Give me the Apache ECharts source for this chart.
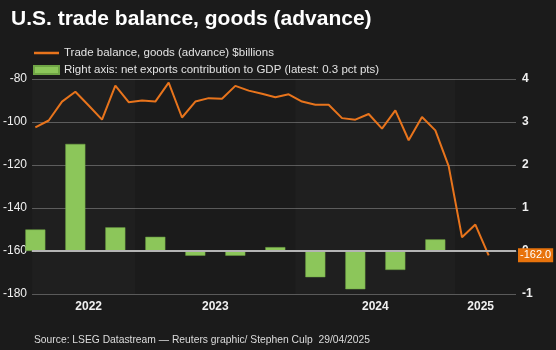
<!DOCTYPE html>
<html>
<head>
<meta charset="utf-8">
<script src="https://cdn.jsdelivr.net/npm/echarts@6/dist/echarts.min.js"></script>
<style>
html,body{margin:0;padding:0;background:#1b1b1b;}
#c{width:556px;height:350px;}
</style>
</head>
<body>
<div id="c"></div>
<script>
// Monthly categories (May 2022 .. Mar 2025)
const months = [
  '2022-05','2022-06','2022-07','2022-08','2022-09','2022-10','2022-11','2022-12',
  '2023-01','2023-02','2023-03','2023-04','2023-05','2023-06','2023-07','2023-08','2023-09','2023-10','2023-11','2023-12',
  '2024-01','2024-02','2024-03','2024-04','2024-05','2024-06','2024-07','2024-08','2024-09','2024-10','2024-11','2024-12',
  '2025-01','2025-02','2025-03'
];
// Trade balance, goods (advance), $billions
const tradeBalance = [
  -102.5, -99.3, -90.5, -85.9, -92.3, -98.9, -83.1, -90.8,
  -90.0, -90.5, -81.7, -97.9, -90.5, -88.9, -89.2, -83.2, -85.4, -86.9, -88.5, -87.1,
  -90.5, -92.0, -92.0, -98.2, -98.9, -96.3, -103.1, -94.6, -108.5, -97.7, -103.9, -120.5,
  -153.6, -147.7, -162.0
];
// Quarterly net exports contribution to GDP (pct pts), plotted at mid-quarter month
const quarterMonths = ['2022-05','2022-08','2022-11','2023-02','2023-05','2023-08','2023-11','2024-02','2024-05','2024-08','2024-11'];
const netExports = [0.50, 2.49, 0.55, 0.33, -0.11, -0.11, 0.09, -0.61, -0.89, -0.44, 0.27];
// Year tick labels
const yearLabels = ['2022','2023','2024','2025'];
const leftTicks = [-180, -160, -140, -120, -100, -80];
const rightTicks = [-1, 0, 1, 2, 3, 4];

const lineData = tradeBalance.map((v, i) => [i, v]);
const barData = netExports.map((v, i) => [months.indexOf(quarterMonths[i]), v]);

// year label anchor positions on the month-index axis
const yearLabelPos = [4.0, 13.5, 25.5, 33.4];
// year shading bands (2022 and 2024)
const firstJan = y => months.indexOf(y + '-01');
const bands = [
  [{xAxis: -0.3}, {xAxis: firstJan('2023') - 0.5}],
  [{xAxis: firstJan('2024') - 0.5}, {xAxis: firstJan('2025') - 0.5}]
];

const chart = echarts.init(document.getElementById('c'), null, {renderer: 'canvas'});
const FONT = '"Liberation Sans", Arial, sans-serif';
chart.setOption({
  backgroundColor: '#1b1b1b',
  animation: false,
  textStyle: {fontFamily: FONT},
  title: {
    text: 'U.S. trade balance, goods (advance)',
    left: 6, top: 4,
    textStyle: {color: '#ffffff', fontSize: 21, fontWeight: 'bold', fontFamily: FONT}
  },
  legend: {
    orient: 'vertical',
    left: 33, top: 47, padding: 0,
    itemWidth: 25, itemHeight: 8, itemGap: 5,
    textStyle: {color: '#e2e2e2', fontSize: 11.5, fontFamily: FONT},
    data: [
      {name: 'Trade balance, goods (advance) $billions', icon: 'path://M0,0H25V2.5H0Z'},
      {name: 'Right axis: net exports contribution to GDP (latest: 0.3 pct pts)', icon: 'rect'}
    ]
  },
  grid: {left: 32, right: 40, top: 79, bottom: 56, containLabel: false},
  xAxis: {
    type: 'value',
    min: -0.25, max: 36.05,
    splitLine: {show: false},
    axisTick: {show: false},
    axisLine: {show: true, lineStyle: {color: '#6a6a6a', width: 1}},
    axisLabel: {
      customValues: yearLabelPos,
      color: '#f0f0f0', fontSize: 12, fontWeight: 'bold', margin: 7,
      formatter: function (v) {
        for (let i = 0; i < yearLabelPos.length; i++) {
          if (Math.abs(yearLabelPos[i] - v) < 0.01) return yearLabels[i];
        }
        return '';
      }
    }
  },
  yAxis: [
    {
      type: 'value', position: 'left',
      min: leftTicks[0], max: leftTicks[leftTicks.length - 1], interval: 20,
      axisLine: {show: false}, axisTick: {show: false},
      splitLine: {lineStyle: {color: '#5a5a5a', width: 1}},
      axisLabel: {color: '#f0f0f0', fontSize: 12, margin: 5}
    },
    {
      type: 'value', position: 'right',
      min: rightTicks[0], max: rightTicks[rightTicks.length - 1], interval: 1,
      axisLine: {show: false}, axisTick: {show: false},
      splitLine: {show: false},
      axisLabel: {color: '#f0f0f0', fontSize: 12, fontWeight: 'bold', margin: 6}
    }
  ],
  series: [
    {
      name: 'Right axis: net exports contribution to GDP (latest: 0.3 pct pts)',
      type: 'bar',
      yAxisIndex: 1,
      data: barData,
      barWidth: 20,
      clip: true,
      itemStyle: {color: '#8cc65a', borderColor: '#6fa545', borderWidth: 0.5},
      markArea: {
        silent: true,
        itemStyle: {color: 'rgba(255,255,255,0.02)'},
        data: bands
      },
      markLine: {
        silent: true, symbol: 'none',
        lineStyle: {color: '#b4b4b4', width: 2, type: 'solid'},
        label: {show: false},
        data: [{yAxis: 0}]
      },
      z: 2
    },
    {
      name: 'Trade balance, goods (advance) $billions',
      type: 'line',
      yAxisIndex: 0,
      data: lineData,
      showSymbol: false,
      symbol: 'none',
      lineStyle: {color: '#e8741c', width: 2},
      itemStyle: {color: '#e8741c'},
      markLine: {
        silent: true, symbol: 'none',
        lineStyle: {color: 'rgba(0,0,0,0)', width: 0},
        label: {
          show: true, position: 'end', distance: 2,
          formatter: p => p.value.toFixed(1),
          backgroundColor: '#e8730c', color: '#ffffff', fontSize: 11,
          padding: [2, 2, 1, 2]
        },
        data: [{yAxis: tradeBalance[tradeBalance.length - 1]}]
      },
      z: 3
    }
  ],
  graphic: [
    {
      type: 'text', left: 34, top: 335,
      style: {
        text: 'Source: LSEG Datastream \u2014 Reuters graphic/ Stephen Culp  29/04/2025',
        fill: '#dcdcdc', fontSize: 10.3, fontFamily: FONT
      }
    }
  ]
});
</script>
</body>
</html>
